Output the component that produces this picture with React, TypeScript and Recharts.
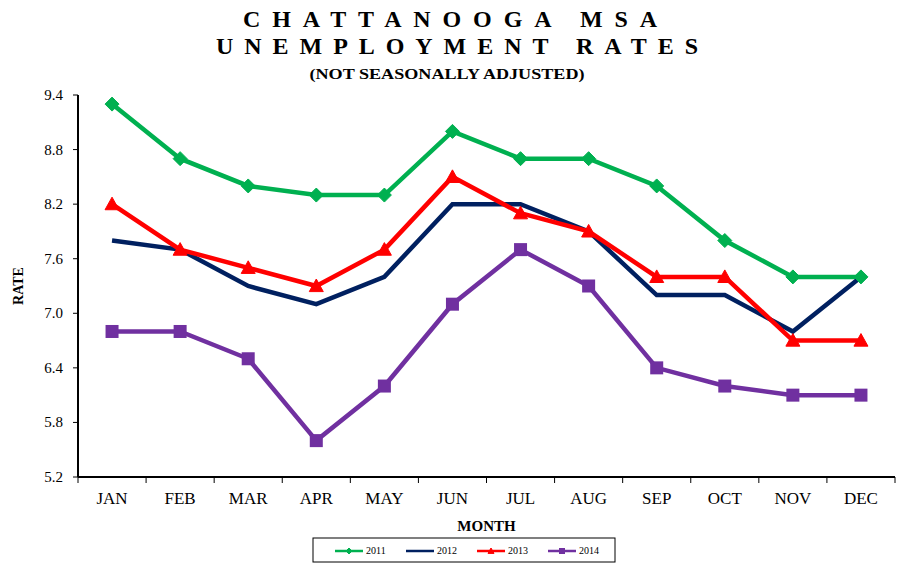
import React from 'react';
import { LineChart, Line, XAxis, YAxis } from 'recharts';

const months = ['JAN', 'FEB', 'MAR', 'APR', 'MAY', 'JUN', 'JUL', 'AUG', 'SEP', 'OCT', 'NOV', 'DEC'];
const rate2011 = [9.3, 8.7, 8.4, 8.3, 8.3, 9.0, 8.7, 8.7, 8.4, 7.8, 7.4, 7.4];
const rate2012 = [7.8, 7.7, 7.3, 7.1, 7.4, 8.2, 8.2, 7.9, 7.2, 7.2, 6.8, 7.4];
const rate2013 = [8.2, 7.7, 7.5, 7.3, 7.7, 8.5, 8.1, 7.9, 7.4, 7.4, 6.7, 6.7];
const rate2014 = [6.8, 6.8, 6.5, 5.6, 6.2, 7.1, 7.7, 7.3, 6.4, 6.2, 6.1, 6.1];
const yTicks = [5.2, 5.8, 6.4, 7.0, 7.6, 8.2, 8.8, 9.4];

const titleLine1 = 'CHATTANOOGA MSA';
const titleLine2 = 'UNEMPLOYMENT RATES';
const subtitle = '(NOT SEASONALLY ADJUSTED)';
const xTitle = 'MONTH';
const yTitle = 'RATE';

type Marker = 'diamond' | 'none' | 'triangle' | 'square';
const series: { key: string; values: number[]; color: string; marker: Marker }[] = [
  { key: '2011', values: rate2011, color: '#00B050', marker: 'diamond' },
  { key: '2012', values: rate2012, color: '#002060', marker: 'none' },
  { key: '2013', values: rate2013, color: '#FF0000', marker: 'triangle' },
  { key: '2014', values: rate2014, color: '#7030A0', marker: 'square' },
];

const data = months.map((m, i) => {
  const row: Record<string, string | number> = { month: m };
  series.forEach((s) => {
    row[s.key] = s.values[i];
  });
  return row;
});

const W = 905;
const H = 563;
const PLOT_LEFT = 78;
const PLOT_RIGHT = 895;
const HALF_BAND = (PLOT_RIGHT - PLOT_LEFT) / months.length / 2;

function markerShape(type: Marker, cx: number, cy: number, r: number, color: string, key?: any) {
  if (type === 'diamond') {
    return (
      <path key={key} d={`M${cx},${cy - r}L${cx + r},${cy}L${cx},${cy + r}L${cx - r},${cy}Z`} fill={color} stroke={color} strokeWidth={1} strokeLinejoin="round" />
    );
  }
  if (type === 'triangle') {
    return (
      <path key={key} d={`M${cx},${cy - r}L${cx + r},${cy + r * 0.8}L${cx - r},${cy + r * 0.8}Z`} fill={color} stroke={color} strokeWidth={1} />
    );
  }
  if (type === 'square') {
    return <rect key={key} x={cx - r} y={cy - r} width={2 * r} height={2 * r} fill={color} />;
  }
  return <g key={key} />;
}

const makeDot = (type: Marker, color: string, r: number) => (props: any) => {
  const { cx, cy, index } = props;
  if (cx == null || cy == null) return <g key={`d-${index}`} />;
  return markerShape(type, cx, cy, r, color, `d-${index}`);
};

const XTick = (props: any) => {
  const { x, y, payload, index, visibleTicksCount } = props;
  const half = payload && payload.offset > 5 ? payload.offset : HALF_BAND;
  const last = index === visibleTicksCount - 1;
  return (
    <g>
      <line x1={x - half} x2={x - half} y1={y} y2={y + 6} stroke="#000" strokeWidth={1} />
      {last && <line x1={x + half} x2={x + half} y1={y} y2={y + 6} stroke="#000" strokeWidth={1} />}
      <text x={x} y={y + 27} textAnchor="middle" fontFamily="Liberation Serif" fontSize={17} fill="#000">
        {payload.value}
      </text>
    </g>
  );
};

const YTick = (props: any) => {
  const { x, y, payload } = props;
  return (
    <text x={x} y={y + 5} textAnchor="end" fontFamily="Liberation Serif" fontSize={15} fill="#000">
      {Number(payload.value).toFixed(1)}
    </text>
  );
};

export default function App() {
  const legendX = 313;
  const legendY = 538;
  return (
    <div style={{ position: 'absolute', left: 0, top: 0, width: W, height: H, background: '#fff' }}>
      <LineChart width={W} height={H} data={data} margin={{ top: 95, right: 10, left: 0, bottom: 56 }}>
        <XAxis
          dataKey="month"
          height={30}
          interval={0}
          padding={{ left: HALF_BAND, right: HALF_BAND }}
          tickLine={false}
          tickSize={0}
          tickMargin={0}
          axisLine={{ stroke: '#000', strokeWidth: 2 }}
          tick={<XTick />}
        />
        <XAxis xAxisId="top" dataKey="month" orientation="top" height={0} tick={false} tickLine={false} axisLine={{ stroke: '#000', strokeWidth: 2 }} />
        <YAxis
          domain={[5.2, 9.4]}
          ticks={yTicks}
          interval={0}
          width={78}
          tickSize={5}
          tickMargin={10}
          axisLine={{ stroke: '#000', strokeWidth: 2 }}
          tickLine={{ stroke: '#000' }}
          tick={<YTick />}
        />
        <YAxis yAxisId="right" orientation="right" domain={[5.2, 9.4]} width={0} tick={false} tickLine={false} axisLine={{ stroke: '#777', strokeWidth: 2 }} />
        {series.map((s) => (
          <Line
            key={s.key}
            dataKey={s.key}
            type="linear"
            stroke={s.color}
            strokeWidth={4.5}
            dot={s.marker === 'none' ? false : makeDot(s.marker, s.color, s.marker === 'square' ? 6.5 : 7)}
            activeDot={false}
            isAnimationActive={false}
          />
        ))}
      </LineChart>
      <svg width={W} height={H} style={{ position: 'absolute', left: 0, top: 0, pointerEvents: 'none' }}>
        <text x={450} y={27} textAnchor="middle" fontFamily="Liberation Serif" fontWeight="bold" fontSize={24} textLength={414} lengthAdjust="spacing" fill="#000">
          {titleLine1}
        </text>
        <text x={457} y={54} textAnchor="middle" fontFamily="Liberation Serif" fontWeight="bold" fontSize={24} textLength={482} lengthAdjust="spacing" fill="#000">
          {titleLine2}
        </text>
        <text x={447} y={79} textAnchor="middle" fontFamily="Liberation Serif" fontWeight="bold" fontSize={15} textLength={275} lengthAdjust="spacingAndGlyphs" fill="#000">
          {subtitle}
        </text>
        <text x={0} y={0} transform={`translate(23, ${(95 + 477) / 2}) rotate(-90)`} textAnchor="middle" fontFamily="Liberation Serif" fontWeight="bold" fontSize={14} fill="#000">
          {yTitle}
        </text>
        <text x={(PLOT_LEFT + PLOT_RIGHT) / 2} y={531} textAnchor="middle" fontFamily="Liberation Serif" fontWeight="bold" fontSize={15} fill="#000">
          {xTitle}
        </text>
        <rect x={legendX} y={legendY} width={302} height={24} fill="#fff" stroke="#000" strokeWidth={1} />
        {series.map((s, i) => {
          const lx = legendX + 22 + i * 71;
          const ly = legendY + 13;
          return (
            <g key={s.key}>
              <line x1={lx} x2={lx + 28} y1={ly} y2={ly} stroke={s.color} strokeWidth={2.5} />
              {s.marker !== 'none' && markerShape(s.marker, lx + 14, ly, 3, s.color)}
              <text x={lx + 31} y={ly + 3} fontFamily="Liberation Serif" fontSize={10} fill="#000">
                {s.key}
              </text>
            </g>
          );
        })}
      </svg>
    </div>
  );
}
